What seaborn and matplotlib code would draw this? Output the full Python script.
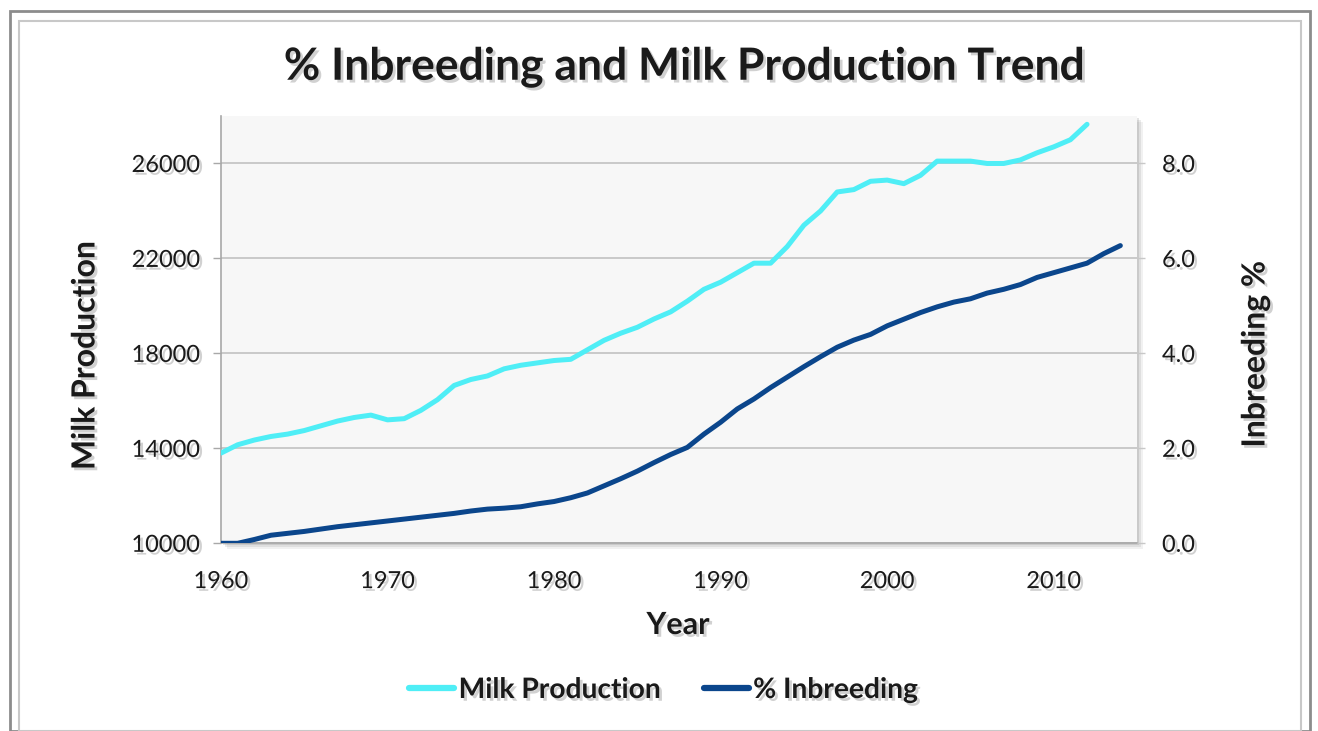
import matplotlib
matplotlib.use("Agg")
import matplotlib.pyplot as plt
import matplotlib.patheffects as pe
from matplotlib.patches import Rectangle
from matplotlib.lines import Line2D
import seaborn as sns
import pandas as pd

years_milk = list(range(1960, 2013))
milk = [13800, 14150, 14350, 14500, 14600, 14750, 14950, 15150, 15300, 15400,
        15200, 15250, 15600, 16050, 16650, 16900, 17050, 17350, 17500, 17600,
        17700, 17750, 18150, 18550, 18850, 19100, 19450, 19750, 20200, 20700,
        21000, 21400, 21800, 21800, 22500, 23400, 24000, 24800, 24900, 25250,
        25300, 25150, 25500, 26100, 26100, 26100, 26000, 26000, 26150, 26450,
        26700, 27000, 27650]

years_inb = list(range(1960, 2015))
inbreeding = [0.00, 0.00, 0.08, 0.17, 0.21, 0.25, 0.30, 0.35, 0.39, 0.43,
              0.47, 0.51, 0.55, 0.59, 0.63, 0.68, 0.72, 0.74, 0.77, 0.83,
              0.88, 0.96, 1.06, 1.21, 1.36, 1.52, 1.70, 1.87, 2.02, 2.30,
              2.55, 2.83, 3.04, 3.28, 3.50, 3.72, 3.93, 4.13, 4.28, 4.40,
              4.58, 4.72, 4.86, 4.98, 5.08, 5.15, 5.27, 5.35, 5.45, 5.60,
              5.70, 5.80, 5.90, 6.10, 6.27]

left_ticks = [10000, 14000, 18000, 22000, 26000]
right_ticks = [0.0, 2.0, 4.0, 6.0, 8.0]
x_ticks = [1960, 1970, 1980, 1990, 2000, 2010]

title = "% Inbreeding and Milk Production Trend"
milk_label = "Milk Production"
inb_label = "% Inbreeding"

CYAN = "#4FEEF6"
NAVY = "#0B468C"
TXT = "#1a1a1a"

sns.set_theme(style="white")
plt.rcParams['font.family'] = ['Lato', 'DejaVu Sans']

W, H = 1318, 731
fig = plt.figure(figsize=(W / 100, H / 100), dpi=100)
fig.patch.set_facecolor("white")

def fx(px):
    return px / W

def fy(py):
    return 1 - py / H

# outer frames
fig.patches.append(Rectangle((fx(10), fy(731)), fx(1300), fy(11) - fy(731),
                             transform=fig.transFigure, fill=False,
                             edgecolor="#8c8c8c", lw=2.0, zorder=-5))
fig.patches.append(Rectangle((fx(19), fy(731)), fx(1282), fy(21) - fy(731),
                             transform=fig.transFigure, fill=False,
                             edgecolor="#c8c8c8", lw=1.5, zorder=-5))

# plot area
L, R, T, B = 221, 1137, 116, 543.3
ax = fig.add_axes([fx(L), fy(B), fx(R - L), fy(T) - fy(B)])
for off, a in [(6, 0.10), (4, 0.15), (2, 0.2)]:
    fig.patches.append(Rectangle((fx(L + off), fy(B + off)), fx(R - L), fy(T) - fy(B),
                                 transform=fig.transFigure, facecolor="#7a7a7a",
                                 edgecolor="none", alpha=a, zorder=-1))
ax.set_facecolor("#F7F7F7")

shadow = [pe.withSimplePatchShadow(offset=(2, -2), shadow_rgbFace="#9a9a9a", alpha=0.45)]

df_m = pd.DataFrame({"Year": years_milk, "Milk": milk})
df_i = pd.DataFrame({"Year": years_inb, "Inb": inbreeding})

sns.lineplot(data=df_m, x="Year", y="Milk", ax=ax, color=CYAN, lw=3.6, zorder=3,
             solid_joinstyle="round", solid_capstyle="round")
ax.set_xlim(1960, 2015)
ax.set_ylim(10000, 28000)
ax.set_yticks(left_ticks)
ax.set_yticklabels([str(v) for v in left_ticks])
ax.set_xticks(x_ticks)
ax.set_xticklabels([str(v) for v in x_ticks])
ax.grid(axis="y", color="#BDBDBD", lw=1.1)
ax.grid(axis="x", visible=False)
ax.set_axisbelow(True)
for s in ["top", "right"]:
    ax.spines[s].set_visible(False)
for s in ["left", "bottom"]:
    ax.spines[s].set_color("#A8A8A8")
    ax.spines[s].set_linewidth(1.2)
ax.tick_params(axis="both", which="major", direction="out", length=6, width=1,
               color="#A8A8A8", labelsize=17, labelcolor=TXT, pad=9)
ax.tick_params(axis="x", pad=14)
ax.set_xlabel("")
ax.set_ylabel("")

ax2 = ax.twinx()
sns.lineplot(data=df_i, x="Year", y="Inb", ax=ax2, color=NAVY, lw=3.6, zorder=3,
             solid_joinstyle="round", solid_capstyle="round")
ax2.set_ylim(0, 9)
ax2.set_yticks(right_ticks)
ax2.set_yticklabels([f"{v:.1f}" for v in right_ticks])
ax2.grid(False)
for s in ["top", "left", "bottom", "right"]:
    ax2.spines[s].set_visible(False)
ax2.tick_params(axis="y", direction="out", length=6, width=1, color="#C8C8C8",
                labelsize=17, labelcolor=TXT, pad=12)
ax2.set_xlabel("")
ax2.set_ylabel("")
ax2.set_xlim(1960, 2015)

for lab in ax.get_xticklabels() + ax.get_yticklabels() + ax2.get_yticklabels():
    lab.set_path_effects(shadow)

fig.text(fx(685), fy(67), title, ha="center", va="center", fontsize=32,
         fontweight="bold", color=TXT, path_effects=shadow)
fig.text(fx(85), fy(355), "Milk Production", ha="center", va="center",
         rotation=90, fontsize=23, fontweight="bold", color=TXT, path_effects=shadow)
fig.text(fx(1255), fy(354), "Inbreeding %", ha="center", va="center",
         rotation=90, fontsize=23, fontweight="bold", color=TXT, path_effects=shadow)
fig.text(fx(678), fy(625), "Year", ha="center", va="center", fontsize=22,
         fontweight="bold", color=TXT, path_effects=shadow)

handles = [Line2D([], [], color=CYAN, lw=4.5), Line2D([], [], color=NAVY, lw=4.5)]
leg = fig.legend(handles, [milk_label, inb_label], loc="center",
                 bbox_to_anchor=(fx(664), fy(690)), ncol=2, frameon=False,
                 handlelength=1.6, handletextpad=0.15, columnspacing=1.5,
                 prop={"size": 20.3, "weight": "bold"})
for t in leg.get_texts():
    t.set_color(TXT)
    t.set_path_effects(shadow)

fig.savefig("out.png", dpi=100)
